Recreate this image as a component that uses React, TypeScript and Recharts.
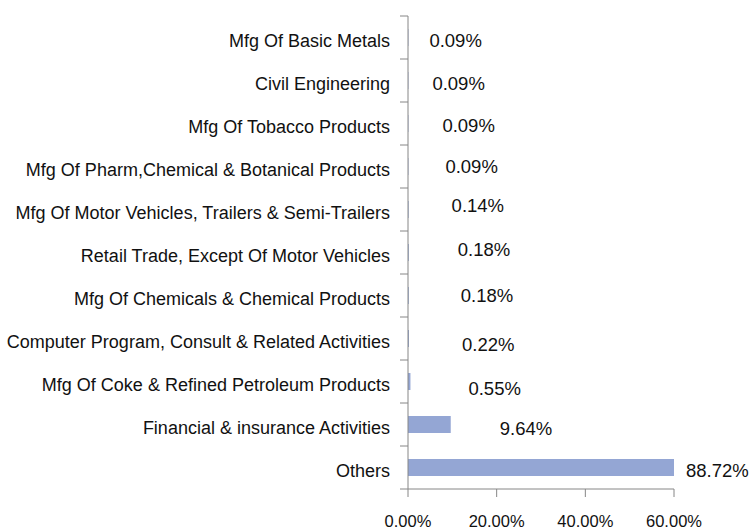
import React from 'react';
import { BarChart, Bar, XAxis, YAxis, LabelList } from 'recharts';

const categories = [
  'Mfg Of Basic Metals',
  'Civil Engineering',
  'Mfg Of Tobacco Products',
  'Mfg Of Pharm,Chemical & Botanical Products',
  'Mfg Of Motor Vehicles, Trailers & Semi-Trailers',
  'Retail Trade, Except Of Motor Vehicles',
  'Mfg Of Chemicals & Chemical Products',
  'Computer Program, Consult & Related Activities',
  'Mfg Of Coke & Refined Petroleum Products',
  'Financial & insurance Activities',
  'Others',
];
const shares = [0.0009, 0.0009, 0.0009, 0.0009, 0.0014, 0.0018, 0.0018, 0.0022, 0.0055, 0.0964, 0.8872];
const xTicks = [0, 0.2, 0.4, 0.6];

const data = categories.map((name, i) => ({ name, share: shares[i] }));

// layout / style constants
const W = 752;
const H = 529;
const M = { top: 16, right: 78, bottom: 0, left: 0 };
const YW = 408;
const XH = 40;
const PLOT_RIGHT = W - M.right;
const HALF_BAND = (H - M.top - M.bottom - XH) / categories.length / 2;
const FONT = '"Liberation Sans", Arial, sans-serif';
const FS_CAT = 18;
const FS_VAL = 18.5;
const FS_TICK = 16.5;
const TEXT = '#111111';
const AXIS = '#868686';
const BAR = '#94A6D4';
// manual label placement (offset from bar end / band centre), as in the reference
const LABEL_DX = [21, 24, 34, 37, 43, 49, 52, 53, 58, 49, 12];
const LABEL_DY = [3, 3, 2, 0, -4, -3, 0, 6, 6.5, 4, 2.5];

const pct = (v: number) => `${(v * 100).toFixed(2)}%`;

const YTick = (props: any) => {
  const { x, y, payload, index } = props;
  const last = index === categories.length - 1;
  return (
    <g>
      <line x1={x - 8} x2={x} y1={y - HALF_BAND} y2={y - HALF_BAND} stroke={AXIS} strokeWidth={1} />
      {last && <line x1={x - 8} x2={x} y1={y + HALF_BAND} y2={y + HALF_BAND} stroke={AXIS} strokeWidth={1} />}
      <text
        x={x - 18}
        y={y + 3}
        textAnchor="end"
        dominantBaseline="central"
        fontSize={FS_CAT}
        fill={TEXT}
        fontFamily={FONT}
      >
        {payload.value}
      </text>
    </g>
  );
};

const ValueLabel = (props: any) => {
  const { x, y, width, height, value, index } = props;
  const i = typeof index === 'number' ? index : 0;
  const end = Math.min(Number(x) + Number(width), PLOT_RIGHT);
  return (
    <text
      x={end + LABEL_DX[i]}
      y={Number(y) + Number(height) / 2 + LABEL_DY[i]}
      textAnchor="start"
      dominantBaseline="central"
      fontSize={FS_VAL}
      fill={TEXT}
      fontFamily={FONT}
    >
      {pct(Number(value))}
    </text>
  );
};

export default function App() {
  return (
    <div style={{ position: 'absolute', left: 0, top: 0, width: W, height: H, background: '#fff' }}>
      <BarChart width={W} height={H} data={data} layout="vertical" margin={M} barSize={17}>
        <XAxis
          type="number"
          domain={[0, 0.6]}
          ticks={xTicks}
          allowDataOverflow
          tickFormatter={pct}
          height={XH}
          tickSize={8}
          tickMargin={18}
          axisLine={{ stroke: AXIS }}
          tickLine={{ stroke: AXIS }}
          tick={{ fontSize: FS_TICK, fill: TEXT, fontFamily: FONT }}
          interval={0}
        />
        <YAxis
          type="category"
          dataKey="name"
          width={YW}
          tickSize={0}
          tickMargin={0}
          tickLine={false}
          axisLine={{ stroke: AXIS }}
          tick={<YTick />}
          interval={0}
        />
        <Bar dataKey="share" fill={BAR} isAnimationActive={false}>
          <LabelList dataKey="share" content={<ValueLabel />} />
        </Bar>
      </BarChart>
    </div>
  );
}
